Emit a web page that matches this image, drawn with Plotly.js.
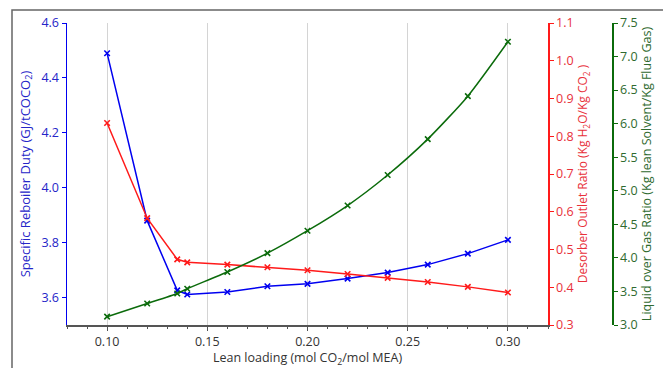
<!DOCTYPE html>
<html>
<head>
<meta charset="utf-8">
<script src="https://cdn.plot.ly/plotly-3.0.1.min.js"></script>
<style>html,body{margin:0;padding:0;background:#fff;}#chart{width:663px;height:368px;}</style>
</head>
<body>
<div id="chart"></div>
<script>
const leanLoading = [0.10, 0.12, 0.135, 0.14, 0.16, 0.18, 0.20, 0.22, 0.24, 0.26, 0.28, 0.30];
const reboilerDuty = [4.49, 3.88, 3.626, 3.611, 3.62, 3.641, 3.65, 3.669, 3.691, 3.72, 3.76, 3.81];
const desorberRatio = [0.835, 0.583, 0.474, 0.466, 0.46, 0.453, 0.445, 0.435, 0.425, 0.414, 0.401, 0.386];
const liquidGasRatio = [3.124, 3.32, 3.47, 3.54, 3.79, 4.07, 4.405, 4.78, 5.235, 5.77, 6.41, 7.22];
const xTicks = [0.10, 0.15, 0.20, 0.25, 0.30];

const FONT = 'Open Sans, DejaVu Sans, sans-serif';
const BLUE = '#0000f0', RED = '#ff1a1a', GREEN = '#0b6b0b';
const BLUE_T = '#2525c8', RED_T = '#e8303a', GREEN_T = '#2f6a2f';

function mk(y, color, yaxis, shape) {
  return {
    x: leanLoading, y: y, type: 'scatter', mode: 'lines+markers', yaxis: yaxis,
    line: {color: color, width: 1.5, shape: shape || 'linear', smoothing: 0.6},
    marker: {symbol: 'x-thin', size: 5.5, color: color, line: {color: color, width: 1.6}},
    showlegend: false, cliponaxis: false
  };
}

const traces = [
  mk(reboilerDuty, BLUE, 'y'),
  mk(desorberRatio, RED, 'y2'),
  mk(liquidGasRatio, GREEN, 'y3', 'spline')
];

const W = 663, H = 368, ML = 67, MR = 40, MT = 23, MB = 43;
const pw = W - ML - MR, ph = H - MT - MB;
const xEnd = (548 - ML) / pw;
const greenPos = (612 - ML) / pw;

const layout = {
  width: W, height: H,
  margin: {l: ML, r: MR, t: MT, b: MB, pad: 0},
  paper_bgcolor: '#fff', plot_bgcolor: '#fff',
  font: {family: FONT, size: 12.5, color: '#333'},
  xaxis: {
    domain: [0, xEnd], range: [0.08, 0.32],
    tickvals: xTicks, tickformat: '.2f',
    ticks: 'outside', ticklen: 4, tickcolor: '#555',
    minor: {dtick: 0.01, tick0: 0, ticks: 'outside', ticklen: 2, tickcolor: '#555', showgrid: false},
    showgrid: true, gridcolor: '#d4d4d4', gridwidth: 1,
    showline: true, linecolor: '#555', linewidth: 1.5,
    zeroline: false,
    tickfont: {size: 12.5, color: '#333'},
    title: {text: 'Lean loading (mol CO<sub>2</sub>/mol MEA)', font: {size: 12.5, color: '#333'}, standoff: 6}
  },
  yaxis: {
    range: [3.5, 4.6], tick0: 3.6, dtick: 0.2, tickformat: '.1f',
    ticks: 'outside', ticklen: 4, tickcolor: BLUE,
    showline: true, linecolor: BLUE, linewidth: 1.5,
    showgrid: false, zeroline: false,
    tickfont: {size: 12.5, color: BLUE_T},
    title: {text: 'Specific Reboiler Duty (GJ/tCOCO<sub>2</sub>)', font: {size: 13, color: BLUE_T}, standoff: 8}
  },
  yaxis2: {
    overlaying: 'y', side: 'right', anchor: 'x',
    range: [0.3, 1.1], dtick: 0.1, tick0: 0.3, tickformat: '.1f',
    ticks: 'outside', ticklen: 4, tickcolor: RED,
    showline: true, linecolor: RED, linewidth: 1.5,
    showgrid: false, zeroline: false,
    tickfont: {size: 12.5, color: RED_T},
    title: {text: 'Desorber Outlet Ratio (Kg H<sub>2</sub>O/Kg CO<sub>2</sub> )', font: {size: 12, color: RED_T}, standoff: 6}
  },
  yaxis3: {
    overlaying: 'y', side: 'right', anchor: 'free', position: greenPos,
    range: [3.0, 7.5], dtick: 0.5, tick0: 3.0, tickformat: '.1f',
    ticks: 'outside', ticklen: 4, tickcolor: GREEN,
    showline: true, linecolor: GREEN, linewidth: 1.5,
    showgrid: false, zeroline: false,
    tickfont: {size: 12.5, color: GREEN_T},
    title: {text: 'Liquid over Gas Ratio (Kg lean Solvent/Kg Flue Gas)', font: {size: 12.5, color: GREEN_T}, standoff: 5}
  },
  shapes: [{
    type: 'rect', xref: 'paper', yref: 'paper',
    x0: (12 - ML) / pw, x1: 2, y0: -1, y1: (H - MB - 10) / ph,
    line: {color: '#666', width: 1.5}, fillcolor: 'rgba(0,0,0,0)', layer: 'below'
  }]
};

Plotly.newPlot('chart', traces, layout, {displayModeBar: false, staticPlot: true});
</script>
</body>
</html>
